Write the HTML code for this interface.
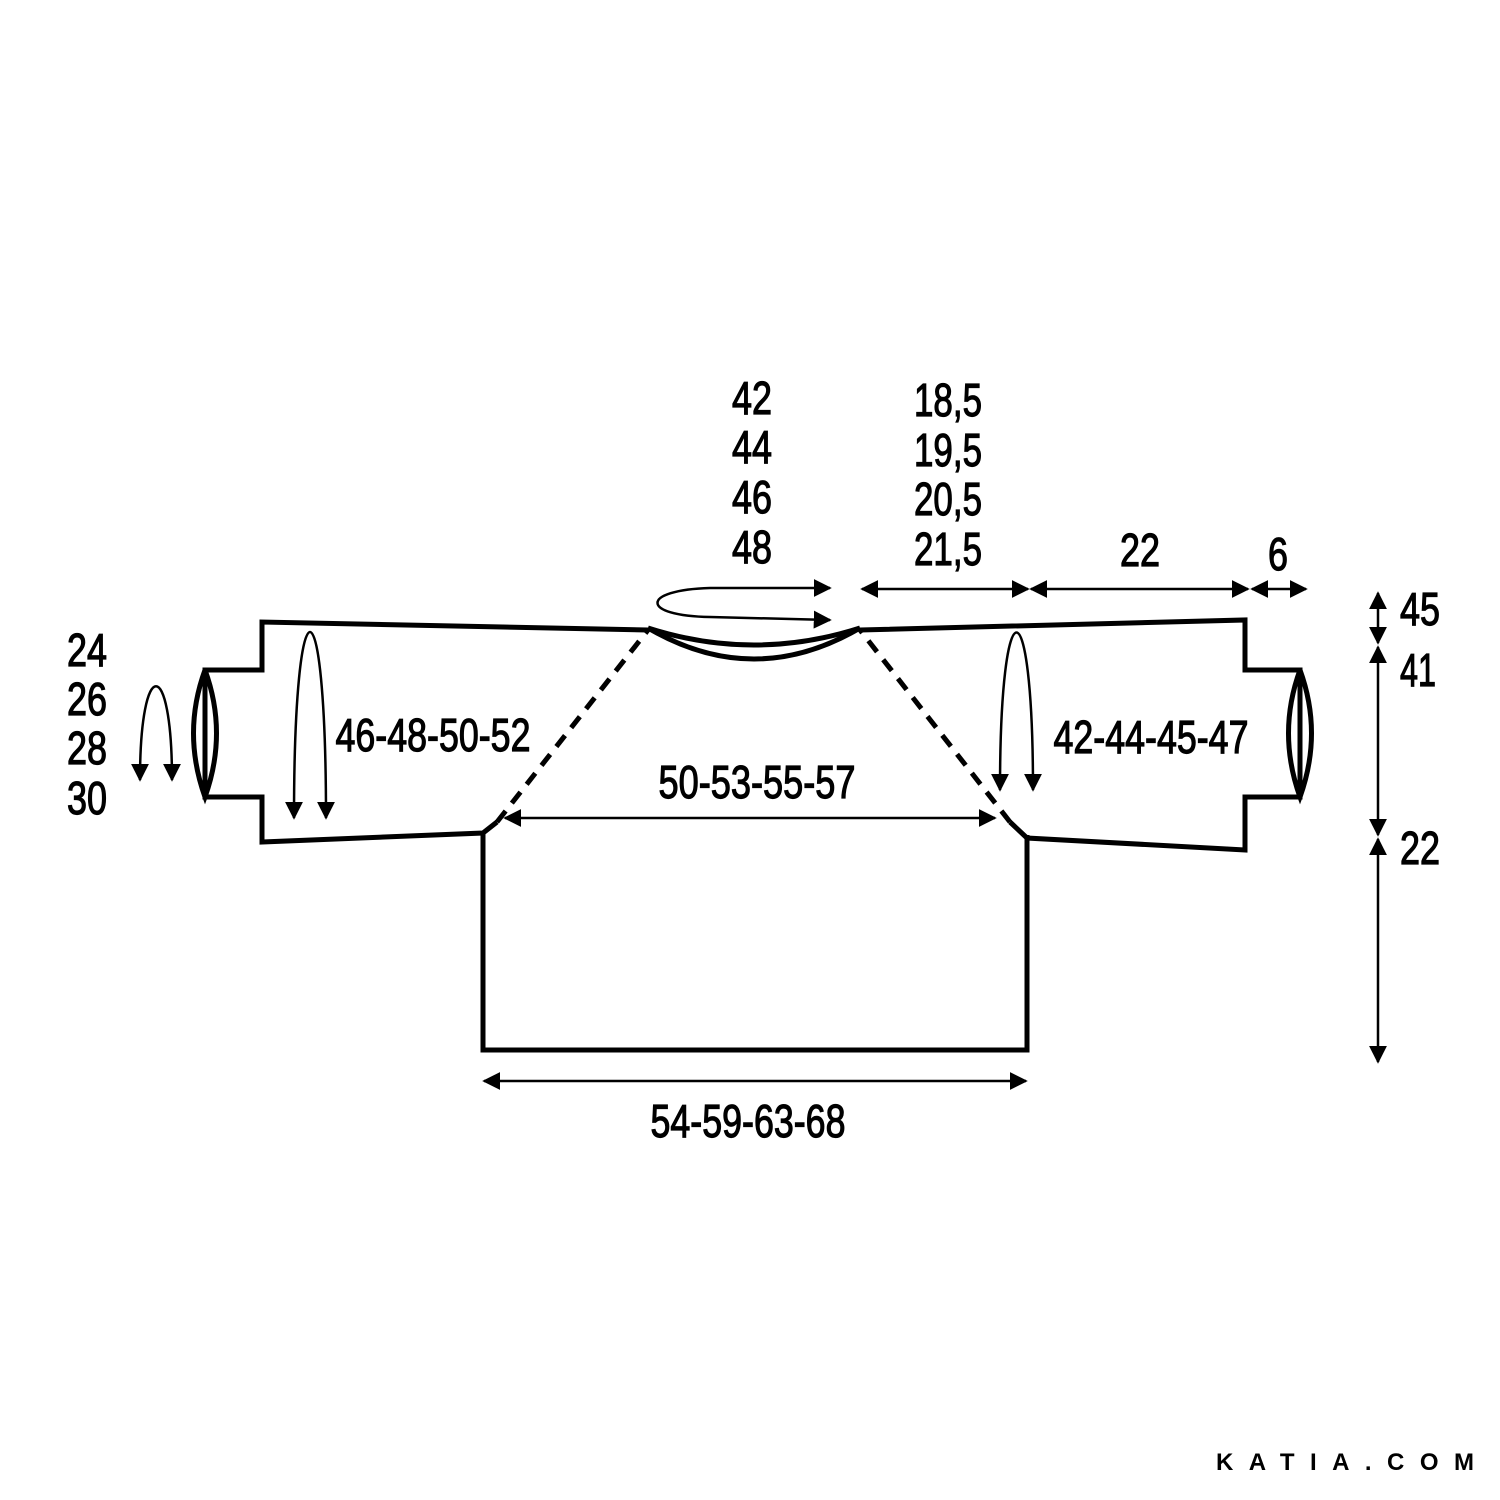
<!DOCTYPE html>
<html><head><style>html,body{margin:0;padding:0;background:#fff}svg{display:block}</style></head><body>
<svg width="1500" height="1500" viewBox="0 0 1500 1500" xmlns="http://www.w3.org/2000/svg">
<defs>
<marker id="b" viewBox="0 0 10 10" refX="9" refY="5" markerWidth="18" markerHeight="18" orient="auto-start-reverse" markerUnits="userSpaceOnUse"><path d="M0,0 L10,5 L0,10z" fill="#000"/></marker>
</defs>
<g fill="none" stroke="#000" stroke-width="5" stroke-linejoin="miter">
<path d="M648,630 L262,622 L262,670 L205,670 L205,797 L262,797 L262,842 L483,833 L497,822"/>
<path d="M483,833 L483,1050 L1027,1050 L1027,835"/>
<path d="M860,630 L1245,620 L1245,670 L1300,670 L1300,797 L1245,797 L1245,850 L1027,838 L1010,822"/>
<path d="M497,822 L648,630 M1010,822 L860,630" stroke-dasharray="14,10"/>
<path d="M648,628 Q754,690 860,628" />
<path d="M648,628 Q754,662 860,628" />
<path d="M205,670 Q182,733 205,797 Q228,733 205,670"/>
<path d="M1300,670 Q1277,733 1300,797 Q1323,733 1300,670"/>
</g>
<g fill="none" stroke="#000" stroke-width="2.5">
<path d="M140,780 C140,655 172,655 172,780" marker-start="url(#b)" marker-end="url(#b)"/>
<path d="M294,818 C294,570 326,570 326,818" marker-start="url(#b)" marker-end="url(#b)"/>
<path d="M1000,790 C1000,580 1033,580 1033,790" marker-start="url(#b)" marker-end="url(#b)"/>
<path d="M830,588 L710,588 C640,590 640,616 710,617 L830,620" marker-start="url(#b)" marker-end="url(#b)"/>
<line x1="862" y1="589" x2="1028" y2="589" marker-start="url(#b)" marker-end="url(#b)"/>
<line x1="1031" y1="589" x2="1248" y2="589" marker-start="url(#b)" marker-end="url(#b)"/>
<line x1="1252" y1="589" x2="1306" y2="589" marker-start="url(#b)" marker-end="url(#b)"/>
<line x1="505" y1="818" x2="995" y2="818" marker-start="url(#b)" marker-end="url(#b)"/>
<line x1="484" y1="1081" x2="1026" y2="1081" marker-start="url(#b)" marker-end="url(#b)"/>
<line x1="1378" y1="593" x2="1378" y2="643" marker-start="url(#b)" marker-end="url(#b)"/>
<line x1="1378" y1="647" x2="1378" y2="835" marker-start="url(#b)" marker-end="url(#b)"/>
<line x1="1378" y1="839" x2="1378" y2="1062" marker-start="url(#b)" marker-end="url(#b)"/>
</g>
<g font-family="'Liberation Sans Narrow','Liberation Sans',sans-serif" font-size="46" fill="#000" stroke="#000" stroke-width="1.2" text-anchor="middle">
<text x="752" y="414" textLength="40" lengthAdjust="spacingAndGlyphs">42</text>
<text x="752" y="463" textLength="40" lengthAdjust="spacingAndGlyphs">44</text>
<text x="752" y="513" textLength="40" lengthAdjust="spacingAndGlyphs">46</text>
<text x="752" y="563" textLength="40" lengthAdjust="spacingAndGlyphs">48</text>
<text x="948" y="416" textLength="68" lengthAdjust="spacingAndGlyphs">18,5</text>
<text x="948" y="466" textLength="68" lengthAdjust="spacingAndGlyphs">19,5</text>
<text x="948" y="515" textLength="68" lengthAdjust="spacingAndGlyphs">20,5</text>
<text x="948" y="565" textLength="68" lengthAdjust="spacingAndGlyphs">21,5</text>
<text x="1140" y="566" textLength="40" lengthAdjust="spacingAndGlyphs">22</text>
<text x="1278" y="570" textLength="20" lengthAdjust="spacingAndGlyphs">6</text>
<text x="1420" y="625" textLength="40" lengthAdjust="spacingAndGlyphs">45</text>
<text x="1418" y="686" textLength="36" lengthAdjust="spacingAndGlyphs">41</text>
<text x="1420" y="864" textLength="40" lengthAdjust="spacingAndGlyphs">22</text>
<text x="87" y="666" textLength="40" lengthAdjust="spacingAndGlyphs">24</text>
<text x="87" y="715" textLength="40" lengthAdjust="spacingAndGlyphs">26</text>
<text x="87" y="764" textLength="40" lengthAdjust="spacingAndGlyphs">28</text>
<text x="87" y="814" textLength="40" lengthAdjust="spacingAndGlyphs">30</text>
<text x="433" y="751" textLength="195" lengthAdjust="spacingAndGlyphs">46-48-50-52</text>
<text x="1151" y="753" textLength="195" lengthAdjust="spacingAndGlyphs">42-44-45-47</text>
<text x="757" y="798" textLength="197" lengthAdjust="spacingAndGlyphs">50-53-55-57</text>
<text x="748" y="1137" textLength="195" lengthAdjust="spacingAndGlyphs">54-59-63-68</text>
</g>
<text x="1345" y="1470" font-family="'Liberation Sans',sans-serif" font-weight="bold" font-size="24" text-anchor="middle" textLength="258" lengthAdjust="spacing">KATIA.COM</text>
</svg>
</body></html>
